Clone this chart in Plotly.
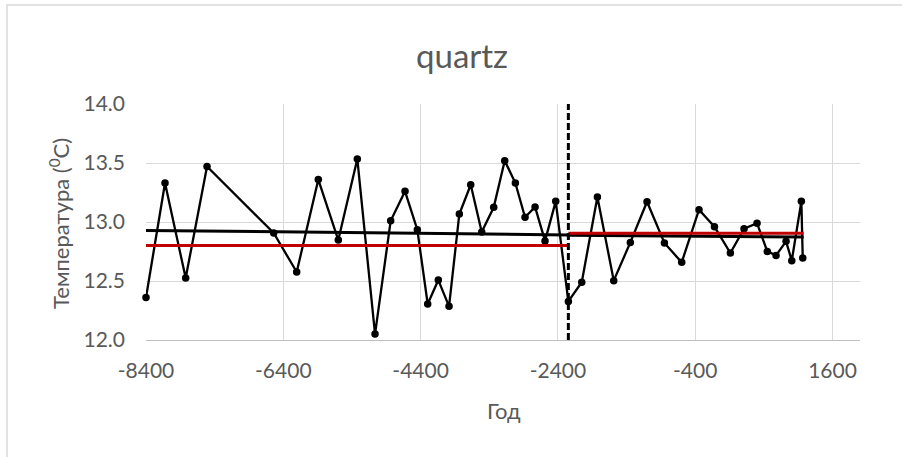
import plotly.graph_objects as go

# ---- data ----
years = [-8400, -8123, -7822, -7511, -6540, -6205, -5890, -5599, -5322, -5064,
         -4836, -4627, -4448, -4297, -4142, -3986, -3836, -3670, -3510, -3335,
         -3175, -3020, -2879, -2733, -2588, -2432, -2248, -2053, -1825, -1587,
         -1345, -1102, -849, -597, -345, -120, 112, 311, 500, 650,
         777, 923, 1006, 1146, 1166]
temps = [12.36, 13.33, 12.525, 13.47, 12.907, 12.576, 13.36, 12.847, 13.534, 12.05,
         13.01, 13.26, 12.935, 12.305, 12.508, 12.285, 13.068, 13.316, 12.915, 13.124,
         13.52, 13.33, 13.04, 13.127, 12.84, 13.175, 12.327, 12.49, 13.212, 12.503,
         12.827, 13.172, 12.822, 12.658, 13.104, 12.96, 12.737, 12.943, 12.99, 12.751,
         12.717, 12.836, 12.672, 13.175, 12.695]

break_year = -2248
seg1_x = [-8400, -2248]
seg2_x = [-2248, 1180]
level1 = [12.80, 12.80]
level2 = [12.904, 12.904]
trend1 = [12.929, 12.890]
trend2 = [12.888, 12.872]

x_ticks = [-8400, -6400, -4400, -2400, -400, 1600]
y_ticks = [12.0, 12.5, 13.0, 13.5, 14.0]

title_text = "quartz"
x_title = "Год"
y_title = "Температура (<sup>0</sup>C)"

FONT = "Lato"
GREY = "#595959"

fig = go.Figure()
fig.add_trace(go.Scatter(x=years, y=temps, mode="lines+markers",
                         line=dict(color="black", width=2.3),
                         marker=dict(color="black", size=7.5),
                         showlegend=False, cliponaxis=False))
for xs, ys, col in [(seg1_x, trend1, "black"), (seg2_x, trend2, "black"),
                    (seg1_x, level1, "#C00000"), (seg2_x, level2, "#C00000")]:
    fig.add_trace(go.Scatter(x=xs, y=ys, mode="lines",
                             line=dict(color=col, width=3),
                             showlegend=False, hoverinfo="skip"))
fig.add_trace(go.Scatter(x=[break_year, break_year], y=[12.0, 14.0], mode="lines",
                         line=dict(color="black", width=3, dash="7px,3px"),
                         showlegend=False, cliponaxis=False, hoverinfo="skip"))

L, R, T, B = 146, 42, 104, 117
W, H = 902, 457
pw, ph = W - L - R, H - T - B

def px(xp):
    return (xp - L) / pw

def py(yp):
    return (H - B - yp) / ph

fig.update_layout(
    width=W, height=H,
    margin=dict(l=L, r=R, t=T, b=B, pad=0),
    paper_bgcolor="white", plot_bgcolor="white",
    font=dict(family=FONT, color=GREY),
    xaxis=dict(range=[-8400, 2000], tickvals=x_ticks,
               ticktext=[str(v) for v in x_ticks],
               showgrid=True, gridcolor="#D9D9D9", gridwidth=1,
               zeroline=False, showline=True, linecolor="#BFBFBF", linewidth=1,
               tickfont=dict(size=21, color=GREY, family=FONT),
               ticks="", ticklabelstandoff=12),
    yaxis=dict(range=[12.0, 14.0], tickvals=y_ticks,
               ticktext=["%.1f" % v for v in y_ticks],
               showgrid=True, gridcolor="#D9D9D9", gridwidth=1,
               zeroline=False, showline=False,
               tickfont=dict(size=21, color=GREY, family=FONT),
               ticks="", ticklabelstandoff=20),
    annotations=[
        dict(text=title_text, xref="paper", yref="paper", x=px(462), y=py(55),
             xanchor="center", yanchor="middle", showarrow=False,
             font=dict(size=33, color=GREY, family=FONT)),
        dict(text=x_title, xref="paper", yref="paper", x=px(504), y=py(410),
             xanchor="center", yanchor="middle", showarrow=False,
             font=dict(size=22, color=GREY, family=FONT)),
        dict(text=y_title, xref="paper", yref="paper", x=px(59), y=py(224),
             xanchor="center", yanchor="middle", showarrow=False, textangle=-90,
             font=dict(size=22, color=GREY, family=FONT)),
    ],
    shapes=[dict(type="rect", xref="paper", yref="paper",
                 x0=px(7), x1=px(930), y0=py(480), y1=py(5),
                 line=dict(color="#D9D9D9", width=1.5), fillcolor="rgba(0,0,0,0)",
                 layer="below")],
)

fig.write_html("out.html")
